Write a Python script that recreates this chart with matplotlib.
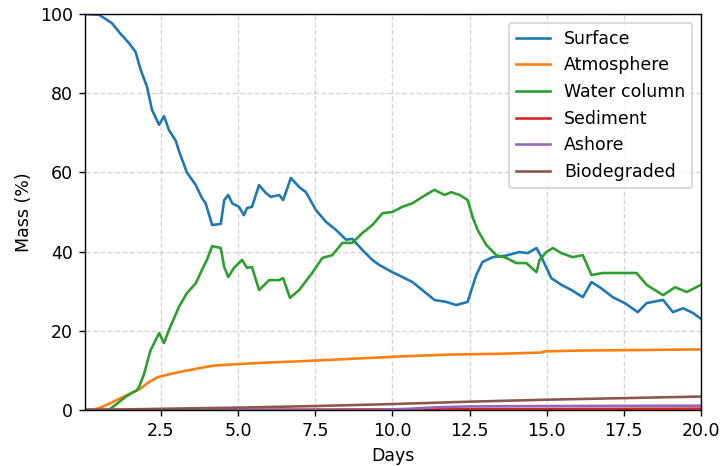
import matplotlib
matplotlib.use("Agg")
import matplotlib.pyplot as plt

# values (days, mass %)
surface_days = [0.04, 0.5, 0.91, 1.19, 1.46, 1.68, 1.84, 2.05, 2.21, 2.44, 2.6, 2.76,
                2.98, 3.08, 3.34, 3.63, 3.83, 3.95, 4.16, 4.44, 4.55, 4.68, 4.81, 5.03,
                5.19, 5.29, 5.45, 5.68, 5.9, 6.06, 6.33, 6.46, 6.71, 6.98, 7.2, 7.52,
                7.85, 8.17, 8.5, 8.7, 9.03, 9.35, 9.58, 10.0, 10.32, 10.65, 10.97, 11.36,
                11.74, 12.07, 12.44, 12.56, 12.72, 12.92, 13.25, 13.69, 14.12, 14.38,
                14.67, 14.83, 15.15, 15.48, 15.8, 16.17, 16.45, 16.72, 17.14, 17.53,
                17.95, 18.24, 18.77, 19.09, 19.42, 19.74, 19.97, 20.0]
surface = [100.0, 99.8, 97.7, 95.0, 92.7, 90.4, 86.0, 81.6, 75.8, 72.0, 74.2, 70.7,
           68.0, 65.5, 60.0, 56.8, 53.5, 52.2, 46.7, 47.0, 53.0, 54.3, 52.2, 51.3,
           49.2, 51.0, 51.3, 56.8, 54.8, 53.8, 54.3, 53.0, 58.6, 56.3, 55.0, 50.5,
           47.5, 45.5, 43.0, 43.2, 40.4, 37.9, 36.6, 34.8, 33.6, 32.3, 30.3, 27.8,
           27.3, 26.5, 27.3, 30.3, 34.1, 37.4, 38.6, 39.0, 39.9, 39.6,
           40.9, 38.6, 33.3, 31.6, 30.3, 28.5, 32.3, 31.0, 28.5, 27.0,
           24.7, 27.0, 27.8, 24.7, 25.7, 24.5, 23.2, 23.0]

water_days = [0.04, 0.8, 1.03, 1.35, 1.56, 1.72, 1.8, 1.95, 2.16, 2.44, 2.6, 2.76,
              3.08, 3.34, 3.63, 3.83, 3.99, 4.16, 4.44, 4.55, 4.68, 4.87, 5.13, 5.29,
              5.45, 5.68, 6.01, 6.33, 6.46, 6.68, 6.98, 7.4, 7.73, 8.05, 8.38, 8.7,
              9.03, 9.35, 9.68, 10.0, 10.32, 10.65, 10.97, 11.36, 11.69, 11.9, 12.18,
              12.44, 12.6, 12.76, 13.04, 13.37, 13.69, 14.02, 14.34, 14.67, 14.77,
              14.99, 15.2, 15.48, 15.84, 16.17, 16.45, 16.82, 17.37, 17.91, 18.24,
              18.77, 19.16, 19.54, 20.0]
water = [0.0, 0.0, 1.3, 3.3, 4.3, 5.0, 6.0, 9.0, 15.0, 19.4, 16.9, 20.2,
         26.0, 29.5, 32.0, 35.4, 37.9, 41.4, 40.9, 36.1, 33.6, 35.9, 37.9, 35.9,
         36.1, 30.3, 32.8, 32.8, 33.3, 28.3, 30.3, 34.6, 38.4, 39.1, 42.2, 42.2,
         44.7, 46.7, 49.7, 50.0, 51.3, 52.2, 53.8, 55.6, 54.3, 55.0, 54.3,
         53.0, 48.7, 45.5, 41.7, 39.1, 38.4, 37.1, 37.1, 34.8, 37.9,
         39.9, 40.9, 39.6, 38.6, 39.1, 34.1, 34.6, 34.6, 34.6, 31.6,
         29.0, 31.0, 29.8, 31.6]

atmos_days = [0.04, 0.3, 0.5, 0.8, 1.14, 1.46, 1.8, 2.1, 2.4, 2.7, 3.1, 3.7, 4.2,
              5.0, 6.0, 7.0, 8.6, 10.2, 11.85, 13.5, 14.8, 14.95, 16.0, 17.4, 20.0]
atmos = [0.0, 0.1, 0.5, 1.5, 2.8, 4.0, 5.2, 7.0, 8.3, 8.9, 9.6, 10.5, 11.2,
         11.6, 12.0, 12.3, 12.9, 13.5, 14.0, 14.2, 14.5, 14.8, 15.0, 15.1, 15.3]

sediment_days = [0.04, 5.0, 10.0, 15.0, 20.0]
sediment = [0.0, 0.05, 0.15, 0.25, 0.35]

ashore_days = [0.04, 9.5, 10.5, 11.5, 12.5, 15.0, 20.0]
ashore = [0.0, 0.0, 0.3, 0.7, 0.9, 1.0, 1.1]

bio_days = [0.04, 1.0, 2.5, 5.0, 7.5, 10.0, 12.5, 15.0, 17.5, 20.0]
bio = [0.0, 0.1, 0.3, 0.6, 1.0, 1.5, 2.1, 2.6, 3.0, 3.4]

SERIES = [
    ("Surface", surface_days, surface),
    ("Atmosphere", atmos_days, atmos),
    ("Water column", water_days, water),
    ("Sediment", sediment_days, sediment),
    ("Ashore", ashore_days, ashore),
    ("Biodegraded", bio_days, bio),
]

DPI = 125
fig = plt.figure(figsize=(721 / DPI, 466 / DPI), dpi=DPI)
ax = fig.add_axes([85 / 721, 56 / 466, 616 / 721, 396 / 466])

for label, xs, ys in SERIES:
    ax.plot(xs, ys, label=label, linewidth=1.5)

ax.set_xlim(0.04, 20)
ax.set_ylim(0, 100)
ax.set_xlabel("Days")
ax.set_ylabel("Mass (%)")
ax.grid(True, linestyle="--", alpha=0.5)
ax.legend(loc="upper right")

fig.savefig("out.png", dpi=DPI)
